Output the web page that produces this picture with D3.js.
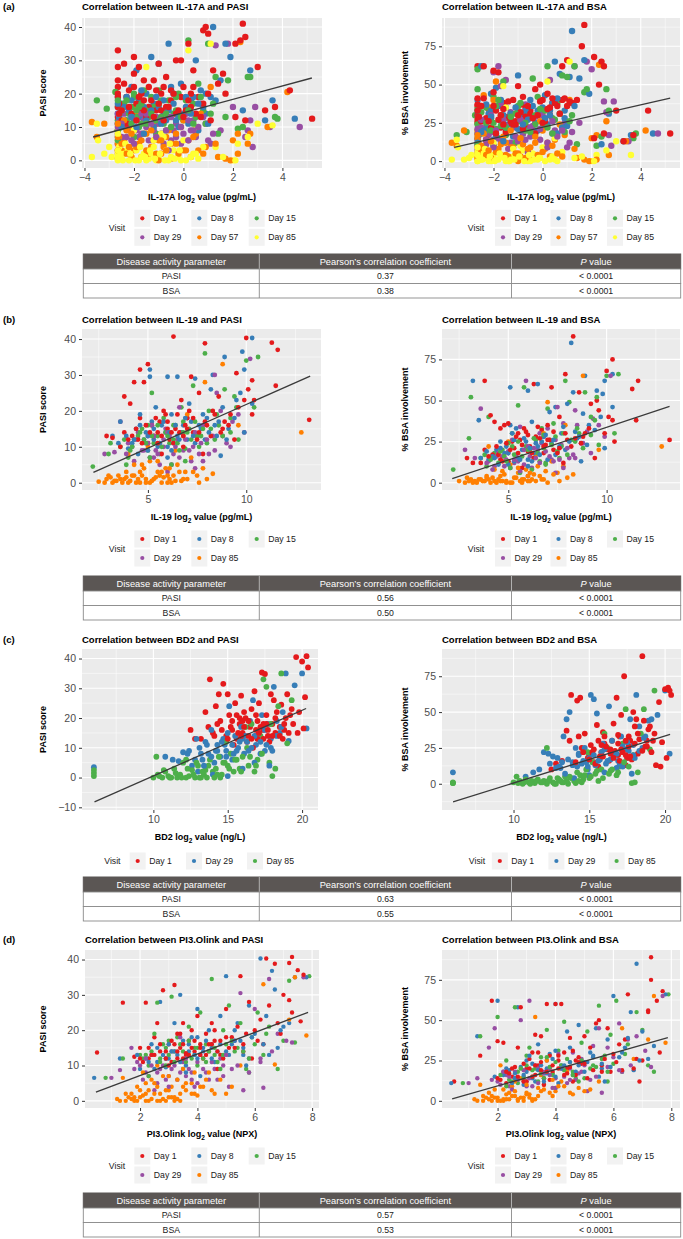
<!DOCTYPE html>
<html>
<head>
<meta charset="utf-8">
<script src="https://cdn.jsdelivr.net/npm/d3@7"></script>
<style>
  body { margin: 0; background: #fff; }
  text { font-family: "Liberation Sans", Arial, sans-serif; }
</style>
</head>
<body>
<svg id="fig" width="683" height="1239"></svg>
<script>
// ---- data: each point is [biomarker log2 value, PASI, % BSA] ----
const visitsA = ["Day 1", "Day 8", "Day 15", "Day 29", "Day 57", "Day 85"];
const visitsB = ["Day 1", "Day 8", "Day 15", "Day 29", "Day 85"];
const visitsC = ["Day 1", "Day 29", "Day 85"];
const visitsD = ["Day 1", "Day 8", "Day 15", "Day 29", "Day 85"];

const il17aDay1 = [[-2.65,33,62],[-2.65,28,36],[-2.65,22,41],[-2.65,19,30],[-2.65,16,27],[-2.65,13,20],[-2.4,29,62],[-2.2,21,34],[-2.0,31,59],[-2.0,26,45],[-1.8,28,58],[-1.7,15,22],[-1.6,24,38],[-1.4,16,29],[-1.2,24,40],[-1.1,15,26],[-1.0,29,49],[-0.9,20,37],[-0.7,25,35],[-0.5,18,33],[-0.3,30,47],[-0.1,30,50],[0.0,22,40],[0.2,35,44],[0.4,27,38],[0.6,19,36],[0.8,39,62],[0.9,40,41],[1.0,38,66],[1.2,27,38],[1.4,23,40],[1.6,26,75],[1.7,20,89],[2.1,35,68],[2.3,36,50],[2.4,41,65],[2.5,37,62],[3.0,28,33],[2.1,13,15],[2.5,12,18],[3.3,15,13],[3.7,16,17],[4.3,21,33],[5.2,12.5,18],[-1.3,15,25],[-0.6,13,22],[0.3,16,30],[1.1,12,39],[-2.3,11,14],[-2.6,17,31],[-2.5,12,26],[-2.3,19,28],[-2.1,14,22],[-1.9,17,33],[-1.7,20,30],[-1.5,13,19],[-1.3,18,27],[-1.1,21,24],[-0.9,15,32],[-0.7,16,29],[-0.5,21,31],[-0.3,14,18],[-0.1,19,39],[0.1,15,26],[0.3,20,35],[0.5,14,38],[0.8,17,40],[-1.6,15,24],[-0.8,12,21],[-2.65,20,33],[-2.65,24,37],[-2.6,14,29],[-2.4,23,41],[-2.2,16,26],[-2.0,22,36],[-1.8,19,27],[-1.6,18,34],[-1.4,22,39],[-1.2,13,24],[-1.0,17,30],[-0.8,22,42],[-0.6,16,36],[-0.4,20,28],[-0.2,15,30],[0.0,13,25],[0.2,18,34],[0.4,22,41],[0.7,13,31],[1.0,20,36],[-2.5,15,36],[-1.9,12,18]];
const il17aDay8 = [[-2.65,19,40],[-2.65,14,25],[-2.65,11,18],[-2.65,9,15],[-2.5,17,62],[-2.3,12,22],[-2.1,22,44],[-1.9,27,48],[-1.7,13,26],[-1.5,20,35],[-1.3,31,28],[-1.2,17,23],[-1.0,29,56],[-0.8,14,30],[-0.6,35,33],[-0.5,22,40],[-0.3,12,25],[-0.1,23,31],[0.1,16,43],[0.3,18,33],[0.5,30,65],[0.7,21,57],[0.9,14,28],[1.1,19,55],[1.2,40,85],[1.5,24,54],[1.7,35,66],[1.9,31,44],[2.7,27,31],[3.6,18,17],[4.5,12.5,18],[3.3,12,13],[1.3,18,36],[-0.2,10,20],[0.6,9,18],[-1.6,16,30],[2.4,15,11],[1.0,11,23],[-2.6,13,30],[-2.4,16,20],[-2.2,15,31],[-2.0,12,14],[-1.8,18,36],[-1.4,14,24],[-1.0,16,21],[-0.7,12,33],[-0.4,17,29],[0.0,14,35],[0.2,11,24],[0.4,19,38],[0.8,16,22],[-1.2,10,16],[-2.1,18,33],[-2.65,17,33],[-2.65,7,12],[-2.5,10,19],[-2.3,19,37],[-2.1,13,29],[-1.9,10,17],[-1.7,21,40],[-1.5,12,22],[-1.3,15,31],[-1.1,19,35],[-0.9,11,20],[-0.6,15,27],[-0.4,20,36],[-0.2,13,33],[0.1,19,28],[0.3,14,30],[0.6,17,41],[0.9,20,33],[-1.6,8,13],[-0.8,18,24]];
const il17aDay15 = [[-3.5,18,17],[-3.1,15.5,19],[-2.75,20.5,30],[-2.65,16,60],[-2.65,12,47],[-2.65,9,24],[-2.4,17,26],[-2.2,14,20],[-2.0,19,42],[-1.8,10,15],[-1.6,21,52],[-1.4,13,28],[-1.2,16,24],[-1.0,21,33],[-0.8,11,18],[-0.6,18,31],[-0.4,14,54],[-0.2,20,42],[0.0,12,22],[0.2,36,62],[0.4,17,28],[0.6,23,38],[0.8,15,56],[1.0,35,55],[1.3,25,62],[1.4,8,11],[1.7,13,45],[1.8,24,47],[2.2,9.5,10],[2.6,25,47],[2.7,25,33],[3.7,13,15],[3.8,12.5,18],[-1.1,8,12],[0.9,11,19],[-2.0,7,10],[1.2,17,30],[2.4,10,16],[-2.6,14,22],[-2.5,10,18],[-2.3,12,35],[-2.1,16,28],[-1.9,13,21],[-1.7,11,30],[-1.5,15,17],[-1.3,19,31],[-0.9,13,26],[-0.7,9,20],[-0.3,15,24],[0.1,18,33],[0.5,13,27],[-1.0,17,36],[-2.0,20,25],[-2.65,18,34],[-2.65,6,11],[-2.5,15,32],[-2.3,18,25],[-2.1,11,20],[-1.9,15,36],[-1.7,17,23],[-1.5,11,22],[-1.3,14,29],[-1.1,12,31],[-0.9,18,38],[-0.7,14,25],[-0.5,10,19],[-0.3,19,30],[-0.1,13,34],[0.2,15,22],[0.4,11,18],[0.7,19,31],[1.1,14,26],[-1.8,16,40]];
const il17aDay29 = [[-2.65,11,25],[-2.65,8,14],[-2.65,5,10],[-2.65,3,7],[-2.4,14,20],[-2.2,9,17],[-2.0,12,58],[-1.8,7,62],[-1.7,18,49],[-1.5,10,53],[-1.3,4,12],[-1.1,13,22],[-0.9,8,28],[-0.7,15,37],[-0.5,6,16],[-0.3,11,19],[-0.1,5,14],[0.1,14,27],[0.3,9,53],[0.5,7,20],[0.7,17,31],[0.9,11,25],[1.1,5,12],[1.3,34.5,62],[1.5,9,25],[1.8,35,65],[2.0,16,60],[2.5,7,39],[2.6,9,32],[2.8,4,10],[2.9,16,39],[3.5,10,13],[4.7,10,18],[2.7,12,17],[-0.6,3,6],[0.4,12,18],[1.0,6,9],[-2.6,12,17],[-2.5,7,22],[-2.3,10,11],[-2.1,6,19],[-1.9,9,15],[-1.6,12,27],[-1.4,6,8],[-1.2,9,24],[-1.0,11,13],[-0.8,5,18],[-0.4,9,23],[0.0,8,30],[0.2,12,9],[0.6,10,16],[-1.7,14,38],[-2.65,10,18],[-2.65,14,21],[-2.5,11,27],[-2.3,7,14],[-2.1,13,30],[-1.9,12,20],[-1.7,8,13],[-1.5,14,23],[-1.3,11,32],[-1.1,7,16],[-0.9,12,27],[-0.7,9,14],[-0.5,13,22],[-0.3,7,29],[-0.1,10,21],[0.2,6,12],[0.4,9,26],[0.8,13,20],[1.2,8,19],[-2.0,5,9]];
const il17aDay57 = [[-3.7,11.5,12],[-3.5,7,10],[-3.2,11,20],[-2.65,9,25],[-2.65,5,15],[-2.65,2,5],[-2.65,0.5,2],[-2.4,6,43],[-2.2,10,35],[-2.0,3,10],[-1.9,14,52],[-1.7,1,4],[-1.5,8,12],[-1.3,4,9],[-1.1,11,16],[-0.9,2,3],[-0.7,7,22],[-0.5,0.5,1],[-0.3,5,12],[-0.1,10,26],[0.1,3,8],[0.3,1,3],[0.5,8,14],[0.7,14,24],[0.9,4,17],[1.1,22,40],[1.4,1,2],[1.7,0.5,1],[2.0,6,15],[2.2,8,17],[2.3,35.5,63],[2.6,5,26],[2.7,8,4],[3.4,10,13],[4.2,20.5,20],[1.9,0,0],[2.2,2,1],[-1.0,6,5],[0.0,12,20],[-2.0,16,40],[-2.6,7,11],[-2.5,3,6],[-2.3,9,14],[-2.1,1,2],[-1.8,5,8],[-1.6,8,16],[-1.4,2,3],[-1.2,6,9],[-0.8,4,11],[-0.6,9,8],[-0.2,2,4],[0.2,6,12],[0.6,3,5],[-2.4,12,18],[-1.0,0,0],[-2.65,7,9],[-2.65,3,2],[-2.65,11,17],[-2.5,5,10],[-2.3,2,4],[-2.1,8,13],[-1.9,4,6],[-1.7,6,11],[-1.5,3,4],[-1.3,9,20],[-1.1,2,5],[-0.9,6,15],[-0.7,3,2],[-0.5,5,9],[-0.3,8,16],[0.0,3,6],[0.4,7,10],[0.8,2,3],[1.3,5,8],[-2.2,4,7]];
const il17aDay85 = [[-3.7,1,1],[-3.5,11,14],[-3.45,6,9],[-3.2,2,1],[-3.0,4,2],[-2.9,1,4],[-2.65,0,0],[-2.65,2,3],[-2.65,6,6],[-2.65,10,19],[-2.5,0.5,1],[-2.3,3,2],[-2.1,1,0],[-2.0,5,4],[-1.8,0,1],[-1.6,2,49],[-1.4,0.5,0],[-1.2,4,3],[-1.0,1,2],[-0.8,7,7],[-0.6,0,0],[-0.4,3,5],[-0.2,1,1],[0.0,6,9],[0.2,33,52],[0.4,2,3],[0.6,0.5,0],[0.8,4,6],[1.1,35,65],[1.3,4,2],[1.6,1,3],[2.0,0,0],[2.2,5,4],[2.6,7,7],[3.0,11,13],[3.6,10.5,4],[2.1,0,0],[-1.5,28,35],[-0.9,8,10],[0.5,10,15],[-2.6,1,2],[-2.6,4,1],[-2.4,2,5],[-2.2,0,0],[-1.9,3,1],[-1.7,1,3],[-1.5,0,0],[-1.3,2,1],[-1.1,0,4],[-0.7,3,2],[-0.5,1,0],[-0.1,0,2],[0.3,1,1],[-2.0,9,12],[-1.2,6,8],[-2.65,1,1],[-2.65,3,4],[-2.65,0.5,0],[-2.65,8,9],[-2.55,2,2],[-2.45,0,1],[-2.35,5,8],[-2.15,2,3],[-1.95,0,0],[-1.75,4,5],[-1.55,1,2],[-1.35,3,0],[-1.15,0.5,1],[-0.95,2,3],[-0.75,0,0],[-0.55,5,4],[-0.35,0.5,1],[-0.15,3,2],[0.1,0,0],[0.5,2,1]];

const il19Day1 = [[6.3,40.7,60],[7.9,38.8,66],[10.0,40.3,68],[11.3,39,57],[11.6,37,62],[13.2,17.5,26],[11.5,27,38],[10.3,28.5,75],[10.1,26,40],[9.5,30.5,50],[4.1,22,41],[4.3,28,37],[4.8,28,35],[4.6,31.5,33],[5.0,33,36],[3.8,24,62],[2.9,13,15],[3.2,12.5,12],[3.8,14,20],[4.2,13,17],[4.6,18,14],[5.2,16,25],[5.5,14,30],[5.8,20,33],[6.1,12,22],[6.4,15,28],[6.7,23,32],[7.0,18,35],[7.3,14,20],[7.6,25,40],[8.0,16,26],[8.3,20,89],[8.6,24,55],[8.9,17,30],[9.2,19,48],[9.6,21,44],[9.9,23,30],[10.3,19,38],[10.4,23,25],[5.0,11,13],[6.8,10,18],[7.2,29.5,58],[7.8,8,12],[5.7,8,9],[9.4,12,15],[4.5,12,17],[5.3,13,21],[5.6,17,26],[6.0,15,19],[6.3,11,15],[6.6,14,27],[6.9,16,23],[7.5,12,18],[8.2,13,22],[8.8,15,28],[5.9,19,31],[7.1,20,26],[4.0,12,16],[4.4,15,22],[4.7,11,13],[4.9,16,24],[5.1,14,20],[5.4,18,28],[5.7,13,23],[6.0,17,29],[6.2,14,18],[6.5,19,34],[6.8,13,22],[7.0,15,26],[7.3,18,31],[7.6,14,21],[7.9,17,30],[8.4,19,27],[8.7,14,24],[9.1,16,33],[3.6,10,12],[5.5,11,18]];
const il19Day8 = [[5.1,31.5,58],[5.1,29.5,35],[6.0,29.5,56],[6.5,29.5,60],[7.4,29,46],[8.3,30,55],[8.9,35,65],[9.8,36.5,54],[10.3,40.3,66],[9.9,31.5,62],[3.2,13,62],[3.5,11,38],[4.0,9.5,14],[4.4,15,20],[4.8,12,18],[5.2,17,30],[5.5,10,15],[5.9,14,25],[6.2,19,37],[6.5,13,22],[6.8,16,28],[7.1,22,43],[7.4,11,17],[7.7,15,30],[8.0,18,48],[8.2,26,85],[8.5,13,27],[8.8,21,42],[9.1,15,35],[9.5,23,56],[9.9,14,21],[10.3,22,46],[3.6,17,15],[4.6,19,25],[6.0,7,10],[7.0,12,14],[5.4,21,33],[8.7,7.5,13],[9.7,25,40],[4.2,11,16],[4.9,14,22],[5.3,12,13],[5.7,16,20],[6.3,11,18],[6.7,14,25],[7.2,17,24],[7.9,12,20],[8.4,16,31],[6.0,10,14],[5.0,9,11],[3.9,13,19],[4.3,12,15],[4.6,16,21],[5.0,13,18],[5.3,15,26],[5.6,11,14],[5.8,17,27],[6.1,14,21],[6.4,16,24],[6.6,12,17],[6.9,18,29],[7.3,13,26],[7.6,16,22],[7.8,19,34],[8.1,14,25],[8.6,17,28],[9.0,12,23],[9.4,18,32],[4.5,8,11],[6.2,9,13]];
const il19Day15 = [[2.2,4.5,8],[3.0,8,27],[3.1,11,52],[3.6,10,15],[4.0,7,40],[4.3,12,18],[4.7,15,20],[5.0,9,13],[5.2,25,30],[5.5,13,47],[5.8,18,58],[6.1,11,20],[6.4,16,26],[6.7,21,33],[7.0,14,45],[7.3,27,36],[7.6,10,15],[7.9,36,62],[8.1,20,49],[8.4,12,25],[8.6,16,30],[8.9,26,55],[9.2,18,40],[9.6,12,23],[10.0,34,65],[10.6,35,66],[10.4,21,30],[9.4,24,38],[6.2,5,8],[4.8,12,16],[5.6,8,6],[7.8,15,30],[6.9,9.5,12],[9.5,21,52],[3.9,5,10],[4.1,9,14],[4.5,13,12],[5.3,11,17],[5.9,14,22],[6.3,12,15],[6.6,9,13],[7.1,15,26],[7.5,13,19],[8.0,11,17],[5.0,16,24],[6.8,17,29],[3.8,12,17],[4.2,10,15],[4.6,14,19],[4.9,11,13],[5.2,13,22],[5.5,16,25],[5.7,10,16],[6.0,13,20],[6.3,16,27],[6.5,11,18],[6.8,14,21],[7.2,12,23],[7.4,17,28],[7.7,13,22],[8.2,15,26],[8.5,19,33],[8.8,13,21],[9.2,14,29],[5.1,7,9],[6.9,6,11]];
const il19Day29 = [[2.8,8,20],[3.3,8.5,15],[3.6,17,45],[4.0,11,13],[4.3,6,10],[4.7,9,16],[5.0,13,19],[5.3,7,12],[5.6,11,34],[5.9,15,62],[6.2,5,9],[6.5,12,20],[6.8,9,28],[7.0,18,33],[7.2,6,14],[7.5,13,46],[7.8,16,36],[8.1,8,15],[8.4,30,44],[8.7,20,24],[9.0,11,31],[9.3,17,39],[9.6,19,35],[9.9,14,28],[10.2,34.5,65],[6.0,3,4],[7.4,4,6],[5.2,16,26],[8.5,25,35],[6.6,21,30],[4.5,14,18],[4.2,10,8],[4.9,11,14],[5.4,9,17],[5.8,12,11],[6.3,8,21],[6.7,14,24],[7.3,10,13],[7.7,11,23],[8.3,13,17],[6.1,13,16],[5.1,7,9],[3.9,8,12],[4.4,12,16],[4.8,9,10],[5.0,11,18],[5.3,13,14],[5.5,8,13],[5.8,10,20],[6.0,14,22],[6.4,10,15],[6.6,7,12],[6.9,12,19],[7.1,9,16],[7.4,14,26],[7.6,8,14],[8.0,12,21],[8.4,9,15],[8.8,13,24],[9.2,10,18],[5.6,5,7],[7.8,6,9]];
const il19Day85 = [[2.5,0.3,1],[2.9,1,3],[3.2,0,0],[3.5,2,2],[3.7,0,1],[3.9,3,4],[4.1,0.5,0],[4.3,5,8],[4.5,1,2],[4.7,2,1],[4.9,0,0],[5.1,6,11],[5.3,1,3],[5.5,3,6],[5.7,0,0],[5.9,4,8],[6.1,1,1],[6.3,2,5],[6.5,5,10],[6.7,0.5,2],[6.9,3,7],[7.2,7,13],[7.5,2,6],[7.8,4,10],[8.0,1,3],[8.3,2.5,5],[8.8,33,65],[9.6,16,20],[12.8,14,22],[7.0,19,49],[5.0,10,25],[6.8,13,30],[4.0,8,22],[3.3,0.5,1],[4.4,0,0],[5.8,1.5,2],[6.0,0,1],[7.9,28,35],[6.4,9,17],[3.0,2,1],[3.6,1,2],[4.2,2,3],[4.6,0,1],[5.2,0.5,0],[5.6,2,1],[6.2,0,2],[6.6,3,4],[7.0,1,0],[4.8,4,5],[2.8,0,0],[3.1,1.5,2],[3.4,0.5,0],[3.8,1,1],[4.0,0,2],[4.3,2,1],[4.6,3,4],[4.9,1,1],[5.1,0,0],[5.4,1.5,3],[5.7,3,2],[6.0,2,4],[6.4,0.5,1],[6.8,1,2],[7.3,3,5],[7.6,0,1],[4.7,5,7],[5.5,6,9],[3.9,1.5,3],[6.1,4,6]];

const bd2Day1 = [[12.5,16,10],[12.8,13,14],[13.2,13,16],[13.5,22,37],[13.7,17,30],[13.8,33,62],[14.0,15,14],[14.2,24,58],[14.4,28,60],[14.5,19,25],[14.7,31.5,35],[14.9,14,18],[15.0,28,20],[15.1,21,27],[15.3,16,15],[15.5,25,41],[15.6,13,12],[15.8,18,22],[15.9,27.5,36],[16.0,15,28],[16.2,20,24],[16.3,12,16],[16.5,17,30],[16.6,23,42],[16.8,29,60],[16.9,14,20],[17.0,19,33],[17.1,25,48],[17.3,35.3,75],[17.4,16,13],[17.5,34.8,18],[17.6,21,33],[17.7,14,30],[17.9,28,50],[18.0,18,40],[18.1,26,45],[18.3,22,31],[18.5,17,89],[18.6,24.5,44],[18.7,13,26],[18.9,20,38],[19.0,28,40],[19.2,21,30],[19.4,18,13],[19.6,40.5,57],[19.8,22,29],[20.0,39,66],[20.1,16.5,18],[20.2,27,67],[20.3,40.8,65],[20.4,37,62],[19.7,15,12],[15.4,11,14],[16.7,10,23],[17.8,12,17],[14.3,18,33],[16.1,22,25],[17.2,17,22],[15.2,17,22],[15.7,15,19],[16.4,14,24],[16.9,16,28],[17.4,13,20],[17.6,18,26],[18.2,15,21],[18.8,16,30],[16.0,19,33],[17.0,13,16],[14.6,16,22],[15.0,13,17],[15.3,19,24],[15.6,21,30],[15.9,14,19],[16.1,17,26],[16.4,19,21],[16.6,13,18],[16.9,21,34],[17.1,15,24],[17.4,18,30],[17.7,16,19],[18.0,14,28],[18.2,20,35],[18.5,14,23],[18.8,18,26],[19.1,15,22],[19.3,23,35],[14.1,14,15],[15.8,20,27]];
const bd2Day29 = [[6.0,3.5,8],[10.8,7,5],[11.7,5.5,10],[12.0,8.5,22],[12.3,8,21],[12.6,4,19],[12.9,13,18],[13.1,10,11],[13.3,6,33],[13.5,12,45],[13.7,8,50],[13.9,16,15],[14.1,5,25],[14.3,11,20],[14.5,7,14],[14.7,13,25],[14.9,9,10],[15.1,24,62],[15.3,6,59],[15.5,14,49],[15.7,10,17],[15.9,17,28],[16.1,8,14],[16.3,12,54],[16.5,19,30],[16.7,26,22],[16.9,11,16],[17.1,15,33],[17.3,21,24],[17.5,9,18],[17.7,18,45],[17.9,13,27],[18.1,30.5,62],[18.3,19,40],[18.5,15,25],[18.7,22,33],[18.9,35,44],[19.1,12.3,45],[19.5,31,48],[20.3,16.5,21],[20.0,35,65],[16.0,3,8],[16.8,5,11],[14.0,1,4],[15.0,0.5,6],[17.8,4,7],[13.0,2,12],[17.2,8,12],[14.2,9,12],[14.8,11,15],[15.4,8,13],[15.8,12,22],[16.2,14,16],[16.6,10,19],[17.0,13,14],[17.6,11,23],[18.0,9,18],[15.0,15,18],[12.4,9,14],[12.8,6,11],[13.2,8,15],[13.6,11,17],[13.9,7,13],[14.3,9,21],[14.6,12,16],[14.9,7,12],[15.3,11,20],[15.6,9,16],[16.0,13,24],[16.4,9,17],[16.8,14,21],[17.2,12,26],[17.5,16,29],[17.9,10,20],[18.3,14,23],[18.6,17,32],[11.3,6,8],[13.4,4,7]];
const bd2Day85 = [[6.0,0.5,0.5],[6.0,1.5,1],[6.0,2.5,0.5],[10.0,0,1],[10.2,7,5],[10.4,0.5,2],[10.6,0,0],[10.8,2,3],[11.0,0.5,1],[11.2,0,2],[11.4,3,0.5],[11.6,0,3],[11.8,1,1],[12.0,5,2],[12.2,0,0],[12.4,0.5,4],[12.6,2.5,1],[12.8,0,0],[13.0,4,3],[13.2,0,1],[13.4,1,5],[13.6,0,0],[13.8,6,4],[14.0,2,2],[14.2,3,8],[14.4,7,6],[14.6,1,3],[14.8,5,10],[15.0,4,4],[15.2,8,15],[15.4,2,7],[15.6,6,2],[15.8,3,10],[16.0,7,35],[16.2,17,25],[16.4,4,9],[16.6,18,20],[16.8,2,6],[17.0,6,12],[17.2,14,28],[17.4,33,52],[17.6,30.5,12],[17.8,5,0.5],[18.0,0.5,1],[18.2,3,8],[18.4,24,35],[18.6,35,52],[19.0,11.5,24],[19.3,26,65],[16.3,10,7],[14.9,12,22],[17.9,18,20],[12.2,6,25],[14.1,0,0.5],[13.5,2.5,2],[10.3,1,0.5],[10.7,2.5,1],[11.1,0,0],[11.5,1.5,2],[11.9,0,1],[12.3,3,2],[12.7,1,0],[13.1,0,2],[13.3,2,1],[13.7,4,5],[14.3,1,2],[14.7,5,6],[15.1,3,5],[15.5,6,9],[15.9,2,4],[16.5,7,10],[16.9,4,8],[17.3,8,15],[12.9,5,4],[14.5,0,1]];

const pi3Day1 = [[0.5,13.7,12],[1.4,27.8,28],[1.8,12.5,62],[2.0,15,37],[2.2,27.8,36],[2.3,12,11],[2.5,18,15],[2.7,14,33],[2.8,31.3,58],[3.0,16,20],[3.1,11,26],[3.2,32.8,30],[3.3,19,41],[3.4,15,22],[3.5,22,40],[3.6,13,14],[3.7,17,60],[3.8,20,28],[3.9,14,18],[4.0,24,60],[4.1,16,25],[4.2,12,60],[4.3,19,30],[4.4,14,20],[4.5,22,39],[4.6,17,12],[4.8,13,27],[5.0,26,40],[5.2,18,33],[5.4,21,48],[5.5,35.3,50],[5.6,14,22],[5.8,28,45],[6.0,20,29],[6.2,23,35],[6.4,40.3,38],[6.5,27,66],[6.7,38.8,20],[6.8,22,26],[7.0,30,25],[7.2,39,56],[7.3,40.7,89],[7.3,25,75],[7.5,37,62],[7.7,35.7,68],[7.6,22.5,30],[6.9,19,12],[7.2,28.5,55],[5.9,12,18],[3.0,10,12],[4.7,9,16],[2.6,22,21],[3.6,13.5,10],[4.9,12,23],[6.3,16,19],[2.1,11,13],[2.4,13,17],[2.9,14,12],[3.2,16,15],[3.5,12,19],[3.8,15,13],[4.1,13,20],[4.4,16,17],[4.8,17,24],[5.1,15,14],[5.6,16,18],[3.3,12,22],[2.0,12,14],[2.3,15,18],[2.5,13,20],[2.7,16,15],[2.9,12,23],[3.1,17,20],[3.3,14,16],[3.5,16,24],[3.7,13,18],[3.9,17,22],[4.1,15,28],[4.3,13,16],[4.5,16,21],[4.7,14,25],[5.0,18,23],[5.3,15,19],[5.7,19,26],[6.1,17,24],[3.4,19,30],[4.6,20,31]];
const pi3Day8 = [[0.4,6.5,11],[1.3,12,40],[2.0,9,62],[2.4,16,19],[2.7,28,58],[3.0,12,25],[3.2,22,14],[3.4,30,35],[3.6,10,17],[3.8,18,29],[4.0,26,60],[4.2,14,22],[4.4,20,43],[4.6,11,16],[4.8,24,47],[5.0,35.3,24],[5.2,16,30],[5.4,22,45],[5.6,13,20],[5.8,27,38],[6.0,19,65],[6.2,40.3,27],[6.4,24,33],[6.6,36.8,55],[6.7,31.5,19],[6.8,15,85],[7.0,21,43],[7.2,22,26],[7.4,35,34],[7.8,35,66],[3.1,14,28],[4.5,15,33],[5.7,10,12],[2.9,9.5,10],[3.5,17,22],[5.3,20,27],[6.5,13,39],[4.1,7,11],[2.2,12,16],[2.6,11,14],[3.0,16,18],[3.3,13,12],[3.7,14,20],[4.0,12,15],[4.3,17,22],[4.7,14,18],[5.1,13,24],[5.5,17,15],[2.8,13,21],[1.9,13,15],[2.3,11,20],[2.6,15,17],[2.9,12,16],[3.2,14,23],[3.4,11,19],[3.7,16,17],[3.9,13,26],[4.2,15,20],[4.5,12,24],[4.8,16,22],[5.0,14,18],[5.3,17,28],[5.6,15,23],[5.9,18,21],[6.3,16,30],[2.5,9,11],[4.0,18,31],[6.9,20,25],[3.6,8,12]];
const pi3Day15 = [[0.8,6.5,11],[1.4,12,40],[2.0,13,52],[2.3,10,25],[2.6,27.8,58],[2.9,15,13],[3.1,29.5,33],[3.3,18,20],[3.5,9,27],[3.7,21,44],[3.9,13,17],[4.1,25,31],[4.3,16,49],[4.5,34.5,24],[4.7,11,14],[4.9,20,36],[5.1,27,43],[5.3,14,22],[5.5,22,59],[5.7,9,28],[5.9,18,41],[6.1,25,62],[6.3,13,18],[6.5,21,35],[6.8,9,55],[7.0,17,44],[7.2,34,22],[7.4,16.5,18],[7.9,35.3,66],[3.0,17,28],[4.4,14,26],[5.8,8,12],[4.0,10,8],[2.5,19,12],[2.2,13,17],[2.7,12,11],[3.2,14,19],[3.6,11,14],[3.9,15,16],[4.2,12,22],[4.6,13,18],[5.0,16,14],[5.4,15,21],[2.9,10,15],[3.4,16,12],[2.1,12,16],[2.4,14,13],[2.7,11,18],[3.0,13,22],[3.2,11,15],[3.5,14,17],[3.8,12,21],[4.0,15,24],[4.3,11,19],[4.6,15,16],[4.9,13,25],[5.2,17,20],[5.6,14,26],[6.0,16,23],[6.4,19,29],[2.8,16,20],[3.7,17,27],[4.8,9,12],[2.3,7,9],[5.8,12,18]];
const pi3Day29 = [[1.0,6.5,11],[1.3,8.7,14],[1.7,15,33],[1.9,11,45],[2.2,8,18],[2.4,13,9],[2.6,5,14],[2.8,10,50],[3.0,7,12],[3.1,14,62],[3.3,6,22],[3.5,11,16],[3.7,9,25],[3.9,4,8],[4.1,13,29],[4.3,8,15],[4.5,16,20],[4.7,6,13],[4.9,10,26],[5.1,4,6],[5.3,17,34],[5.5,30.5,45],[5.6,3,5],[5.8,12,33],[6.0,26,27],[6.2,11,48],[6.3,3.7,18],[6.5,34.5,38],[6.8,19,40],[7.1,17,31],[7.3,16.5,21],[7.7,35,65],[2.5,3,7],[3.4,18,20],[4.6,9,30],[2.0,10,12],[2.3,7,16],[2.7,9,13],[3.2,10,9],[3.6,7,18],[4.0,11,14],[4.4,6,11],[4.8,12,17],[5.2,9,13],[2.9,12,19],[3.8,8,20],[1.8,9,13],[2.1,6,10],[2.4,10,15],[2.6,8,18],[2.9,6,12],[3.1,9,14],[3.4,8,11],[3.6,12,17],[3.8,6,16],[4.2,9,20],[4.5,11,13],[4.9,7,18],[5.4,10,15],[5.8,8,21],[6.2,12,19],[2.2,12,18],[3.0,4,9],[4.0,5,8],[6.6,14,22],[5.0,13,22]];
const pi3Day85 = [[1.2,0.5,1],[1.4,6.5,10],[1.5,0,0],[1.7,2,5],[1.8,0,0],[1.9,4,7],[2.0,1,2],[2.1,8,22],[2.2,0,0],[2.3,3,4],[2.4,0.5,1],[2.5,5,9],[2.6,0,3],[2.7,2,1],[2.8,7,14],[2.9,0,0],[3.0,1,5],[3.1,4,2],[3.2,0,0],[3.3,6,52],[3.4,2,8],[3.5,9,16],[3.6,3,10],[3.8,5,20],[4.0,1.5,6],[4.2,4,12],[4.4,8,18],[4.6,2,4],[5.0,2,6],[5.2,4,7],[5.5,10,12],[6.7,10.3,26],[7.2,23,38],[7.4,35,65],[7.8,18.5,36],[6.3,33,45],[3.7,13,25],[2.6,10,12],[1.6,1,2],[2.0,3,0],[1.8,1,3],[2.2,2,1],[2.4,6,5],[2.7,0,0],[2.9,3,2],[3.1,1,4],[3.3,0.5,1],[3.5,4,6],[3.9,2,3],[4.3,6,9],[1.3,0,0],[1.5,2,3],[1.7,0.5,1],[1.9,0,2],[2.1,1.5,0],[2.3,0,1],[2.5,2,3],[2.6,4,6],[2.8,0.5,2],[3.0,3,4],[3.2,1,1],[3.4,0,3],[3.6,5,7],[3.8,2,5],[4.1,4,9],[4.5,3,5],[4.8,6,8],[2.2,5,7],[3.0,7,10],[3.9,8,13]];

// fitted regression lines, two end points each [x, y]
const il17aFitPasi = [[-3.65, 7.0], [5.19, 24.7]];
const il17aFitBsa = [[-3.6, 9.0], [5.2, 41.2]];
const il19FitPasi = [[2.23, 2.9], [13.25, 29.7]];
const il19FitBsa = [[2.15, 2.5], [13.2, 46.4]];
const bd2FitPasi = [[6.04, -8.2], [20.27, 23.2]];
const bd2FitBsa = [[6.01, -12.6], [20.33, 34.5]];
const pi3FitPasi = [[0.46, 2.45], [7.86, 25.05]];
const pi3FitBsa = [[0.43, 1.2], [7.88, 39.2]];

const markerNames = ["IL-17A", "IL-19", "BD2", "PI3.Olink"];
const markerUnits = ["pg/mL", "pg/mL", "ng/L", "NPX"];
const corrPasi = ["0.37", "0.56", "0.63", "0.57"];
const corrBsa = ["0.38", "0.50", "0.55", "0.53"];
const pValues = ["< 0.0001", "< 0.0001", "< 0.0001", "< 0.0001"];
const pasiTicks = [0, 10, 20, 30, 40];
const pasiTicksC = [-10, 0, 10, 20, 30, 40];
const bsaTicks = [0, 25, 50, 75];

const markers = [
  { tag: "(a)", visits: visitsA, series: [il17aDay1, il17aDay8, il17aDay15, il17aDay29, il17aDay57, il17aDay85], fitP: il17aFitPasi, fitB: il17aFitBsa, bsaLab: "% BSA  involvement" },
  { tag: "(b)", visits: visitsB, series: [il19Day1, il19Day8, il19Day15, il19Day29, il19Day85], fitP: il19FitPasi, fitB: il19FitBsa, bsaLab: "% BSA involvement" },
  { tag: "(c)", visits: visitsC, series: [bd2Day1, bd2Day29, bd2Day85], fitP: bd2FitPasi, fitB: bd2FitBsa, bsaLab: "% BSA involvement" },
  { tag: "(d)", visits: visitsD, series: [pi3Day1, pi3Day8, pi3Day15, pi3Day29, pi3Day85], fitP: pi3FitPasi, fitB: pi3FitBsa, bsaLab: "% BSA involvement" }
];

// ---- layout (pixel positions of each block) ----
const layout = [
  { titleY: 7, top: 18, bottom: 168, xlabY: 197, legY: [218.3, 237.3], tableTop: 254, r: 3.2,
    L: { x0: 82, x1: 322, xd: [-4.1, 5.6], yd: [-2.3, 42.7] }, R: { x0: 442, x1: 680, xd: [-4.1, 5.6], yd: [-4.5, 93.5] },
    xMaj: [-4, -2, 0, 2, 4], xMin: [-3, -1, 1, 3, 5], yP: pasiTicks },
  { titleY: 319.5, top: 329, bottom: 490, xlabY: 517, legY: [539, 558], tableTop: 576, r: 2.4,
    L: { x0: 82, x1: 321, xd: [1.65, 13.8], yd: [-2.03, 42.8] }, R: { x0: 442, x1: 680, xd: [1.63, 13.73], yd: [-4.45, 93.5] },
    xMaj: [5, 10], xMin: [2.5, 7.5, 12.5], yP: pasiTicks },
  { titleY: 639.5, top: 649, bottom: 810, xlabY: 837, legY: [861], tableTop: 877, r: 2.9,
    L: { x0: 82, x1: 318, xd: [5.2, 21.07], yd: [-10.9, 43.2] }, R: { x0: 442, x1: 681, xd: [5.28, 21.05], yd: [-18.3, 94] },
    xMaj: [10, 15, 20], xMin: [7.5, 12.5, 17.5], yP: pasiTicksC },
  { titleY: 940, top: 950, bottom: 1108, xlabY: 1134, legY: [1156, 1175], tableTop: 1193, r: 2.2,
    L: { x0: 85, x1: 319, xd: [0.08, 8.24], yd: [-2.03, 42.7] }, R: { x0: 442, x1: 680, xd: [0.08, 8.3], yd: [-4.45, 93.5] },
    xMaj: [2, 4, 6, 8], xMin: [1, 3, 5, 7], yP: pasiTicks }
];

const svg = d3.select("#fig");
const colors = d3.schemeSet1;
const fmt = d3.format("d");

function minorOf(ticks, dom) {
  const out = [];
  const step = ticks[1] - ticks[0];
  for (let t = ticks[0] - step / 2; t <= dom[1]; t += step) {
    if (t >= dom[0]) out.push(t);
  }
  return out;
}

function drawPanel(lay, side, m, col, yTicks, title, ylab, xlabName, xlabUnit, fit, ylabX) {
  const g = svg.append("g");
  const x = d3.scaleLinear().domain(side.xd).range([side.x0, side.x1]);
  const y = d3.scaleLinear().domain(side.yd).range([lay.bottom, lay.top]);

  g.append("rect")
    .attr("x", side.x0).attr("y", lay.top)
    .attr("width", side.x1 - side.x0).attr("height", lay.bottom - lay.top)
    .attr("fill", "#EBEBEB");

  const yMin = minorOf(yTicks, side.yd);
  g.selectAll(".vmin").data(lay.xMin).enter().append("line")
    .attr("x1", d => x(d)).attr("x2", d => x(d)).attr("y1", lay.top).attr("y2", lay.bottom)
    .attr("stroke", "#fff").attr("stroke-width", 0.5);
  g.selectAll(".hmin").data(yMin).enter().append("line")
    .attr("y1", d => y(d)).attr("y2", d => y(d)).attr("x1", side.x0).attr("x2", side.x1)
    .attr("stroke", "#fff").attr("stroke-width", 0.5);
  g.selectAll(".vmaj").data(lay.xMaj).enter().append("line")
    .attr("x1", d => x(d)).attr("x2", d => x(d)).attr("y1", lay.top).attr("y2", lay.bottom)
    .attr("stroke", "#fff").attr("stroke-width", 1.1);
  g.selectAll(".hmaj").data(yTicks).enter().append("line")
    .attr("y1", d => y(d)).attr("y2", d => y(d)).attr("x1", side.x0).attr("x2", side.x1)
    .attr("stroke", "#fff").attr("stroke-width", 1.1);

  // interleave visits so colours overlap like the original plotting order
  const pts = [];
  const n = d3.max(m.series, s => s.length);
  for (let i = 0; i < n; i++) {
    m.series.forEach((s, v) => { if (s[i]) pts.push({ x: s[i][0], y: s[i][col], c: colors[v] }); });
  }
  g.selectAll(".pt").data(pts).enter().append("circle")
    .attr("cx", d => x(d.x)).attr("cy", d => y(d.y))
    .attr("r", lay.r).attr("fill", d => d.c);

  g.append("path")
    .attr("d", d3.line().x(d => x(d[0])).y(d => y(d[1]))(fit))
    .attr("stroke", "#3a3a3a").attr("stroke-width", 1.3).attr("fill", "none");

  const ax = g.append("g").attr("transform", `translate(0,${lay.bottom})`)
    .call(d3.axisBottom(x).tickValues(lay.xMaj).tickFormat(fmt).tickSize(3).tickPadding(3));
  const ay = g.append("g").attr("transform", `translate(${side.x0},0)`)
    .call(d3.axisLeft(y).tickValues(yTicks).tickFormat(fmt).tickSize(3).tickPadding(3));
  [ax, ay].forEach(a => {
    a.select(".domain").remove();
    a.selectAll(".tick line").attr("stroke", "#333");
    a.selectAll(".tick text").attr("fill", "#4d4d4d").style("font-size", "10.5px")
      .style("font-family", "'Liberation Sans', Arial, sans-serif");
  });

  g.append("text").attr("x", side.x0).attr("y", lay.titleY).attr("dy", "0.35em")
    .style("font-size", "9.5px").style("font-weight", "bold").text(title);

  g.append("text")
    .attr("transform", `translate(${ylabX},${(lay.top + lay.bottom) / 2}) rotate(-90)`)
    .attr("text-anchor", "middle").attr("dy", "0.35em")
    .style("font-size", "9px").style("font-weight", "bold").text(ylab);

  const xl = g.append("text").attr("x", (side.x0 + side.x1) / 2).attr("y", lay.xlabY).attr("dy", "0.35em")
    .attr("text-anchor", "middle").style("font-size", "9px").style("font-weight", "bold");
  xl.append("tspan").text(xlabName + " log");
  xl.append("tspan").attr("dy", 2.5).style("font-size", "6.5px").text("2");
  xl.append("tspan").attr("dy", -2.5).text(" value (" + xlabUnit + ")");
}

function drawLegend(lay, m, side) {
  const g = svg.append("g");
  const single = lay.legY.length === 1;
  const dots = single ? (side === "L" ? [137.7, 194, 255] : [499.8, 556.4, 616.6])
                      : (side === "L" ? [142.3, 199.3, 256.7] : [503, 558.5, 615]);
  const visitX = single ? (side === "L" ? 112.4 : 477) : (side === "L" ? 117 : 476);
  const visitY = d3.mean(lay.legY);
  g.append("text").attr("x", visitX).attr("y", visitY).attr("dy", "0.35em")
    .attr("text-anchor", "middle").attr("fill", "#1a1a1a").style("font-size", "8.7px").text("Visit");
  m.visits.forEach((v, i) => {
    const cx = dots[i % 3], cy = lay.legY[Math.floor(i / 3)];
    g.append("rect").attr("x", cx - 8).attr("y", cy - 8.5).attr("width", 16).attr("height", 17)
      .attr("fill", "#F2F2F2");
    g.append("circle").attr("cx", cx).attr("cy", cy).attr("r", 2.1).attr("fill", colors[i]);
    g.append("text").attr("x", cx + 11.5).attr("y", cy).attr("dy", "0.35em")
      .attr("fill", "#1a1a1a").style("font-size", "8.7px").text(v);
  });
}

function drawTable(lay, k) {
  const g = svg.append("g");
  const cols = [83.3, 259.3, 511.5, 680.7];
  const hH = 15, rH = 14.5, t = lay.tableTop;
  g.append("rect").attr("x", cols[0]).attr("y", t).attr("width", cols[3] - cols[0]).attr("height", hH)
    .attr("fill", "#5b5654").attr("stroke", "#5b5654");
  [1, 2].forEach(c => g.append("line").attr("x1", cols[c]).attr("x2", cols[c])
    .attr("y1", t).attr("y2", t + hH).attr("stroke", "#c8c8c8").attr("stroke-width", 0.8));
  const heads = ["Disease activity parameter", "Pearson\u2019s correlation coefficient", null];
  heads.forEach((h, c) => {
    const tx = g.append("text").attr("x", (cols[c] + cols[c + 1]) / 2).attr("y", t + hH / 2).attr("dy", "0.35em")
      .attr("text-anchor", "middle").attr("fill", "#fff").style("font-size", "9.3px");
    if (h) tx.text(h);
    else { tx.append("tspan").style("font-style", "italic").text("P"); tx.append("tspan").text(" value"); }
  });
  const rows = [["PASI", corrPasi[k], pValues[k]], ["BSA", corrBsa[k], pValues[k]]];
  rows.forEach((row, ri) => {
    const ry = t + hH + ri * rH;
    g.append("rect").attr("x", cols[0]).attr("y", ry).attr("width", cols[3] - cols[0]).attr("height", rH)
      .attr("fill", "#fff").attr("stroke", "#8a8a8a").attr("stroke-width", 0.9);
    [1, 2].forEach(c => g.append("line").attr("x1", cols[c]).attr("x2", cols[c])
      .attr("y1", ry).attr("y2", ry + rH).attr("stroke", "#8a8a8a").attr("stroke-width", 0.9));
    row.forEach((v, c) => g.append("text").attr("x", (cols[c] + cols[c + 1]) / 2).attr("y", ry + rH / 2)
      .attr("dy", "0.35em").attr("text-anchor", "middle").attr("fill", "#222").style("font-size", "8.7px").text(v));
  });
}

markers.forEach((m, k) => {
  const lay = layout[k];
  svg.append("text").attr("x", 3).attr("y", lay.titleY).attr("dy", "0.35em")
    .style("font-size", "9.5px").style("font-weight", "bold").text(m.tag);
  drawPanel(lay, lay.L, m, 1, lay.yP, `Correlation between ${markerNames[k]} and PASI`, "PASI score",
    markerNames[k], markerUnits[k], m.fitP, 43);
  drawPanel(lay, lay.R, m, 2, bsaTicks, `Correlation between ${markerNames[k]} and BSA`, m.bsaLab,
    markerNames[k], markerUnits[k], m.fitB, 405);
  drawLegend(lay, m, "L");
  drawLegend(lay, m, "R");
  drawTable(lay, k);
});
</script>
</body>
</html>
